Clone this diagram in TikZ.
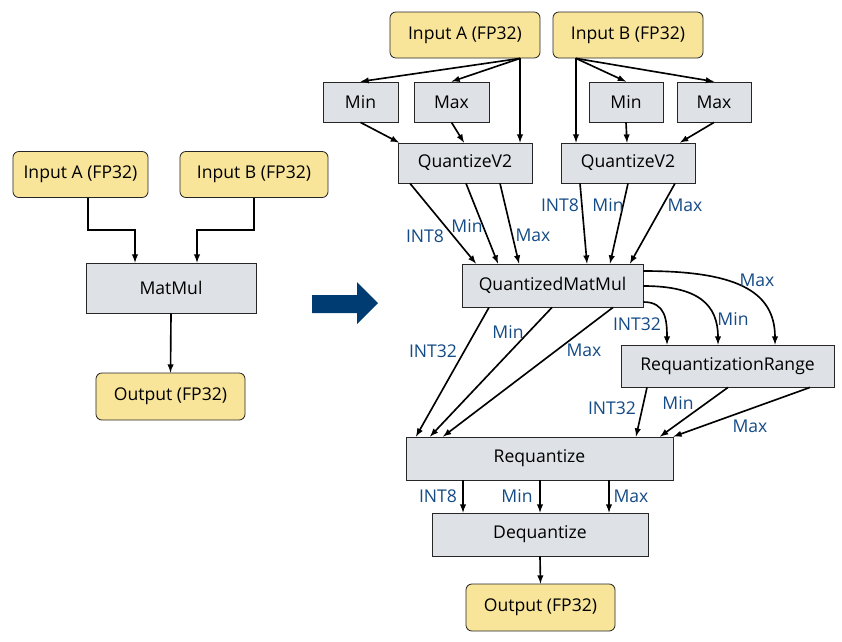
\documentclass[tikz,border=0pt]{standalone}
\usepackage{fontspec}
\setmainfont{Open Sans}
\usetikzlibrary{arrows}

\definecolor{ioyellow}{RGB}{248,229,154}
\definecolor{opgray}{RGB}{222,225,229}
\definecolor{lblblue}{RGB}{20,74,134}
\definecolor{bigblue}{RGB}{0,60,113}

\tikzset{
  box/.style={draw=black!85,line width=0.7pt,fill=opgray,inner sep=0pt,font=\fontsize{15}{17}\selectfont},
  io/.style={box,fill=ioyellow,rounded corners=5pt},
  arr/.style={line width=1.4pt,-latex},
  lbl/.style={text=lblblue,inner sep=0pt,font=\fontsize{15}{17}\selectfont}
}

\begin{document}
\begin{tikzpicture}[x=0.03cm,y=-0.03cm]
\useasboundingbox (0,0) rectangle (842,641);
% before
\node[io,minimum width=4.05cm,minimum height=1.38cm] (inA) at (80.5,174.5) {Input A (FP32)};
\node[io,minimum width=4.44cm,minimum height=1.38cm] (inB) at (254,174.5) {Input B (FP32)};
\node[box,minimum width=5.1cm,minimum height=1.5cm] (mm) at (171,288) {MatMul};
\node[io,minimum width=4.47cm,minimum height=1.41cm] (out) at (170.5,396.5) {Output (FP32)};
\draw[arr] (88,0 |- inA.south) -- (88,230) -| (135,0 |- mm.north);
\draw[arr] (254,0 |- inB.south) -- (254,230) -| (197,0 |- mm.north);
\draw[arr] (mm.south) -- (out.north);
% big arrow
\fill[bigblue] (312,295) -- (357,295) -- (357,282) -- (378,303) -- (357,324) -- (357,313) -- (312,313) -- cycle;
% after
\node[io,minimum width=4.5cm,minimum height=1.38cm] (inAr) at (465,35) {Input A (FP32)};
\node[io,minimum width=4.5cm,minimum height=1.38cm] (inBr) at (628,35) {Input B (FP32)};
\node[box,minimum width=2.25cm,minimum height=1.2cm] (minL) at (360.5,102) {Min};
\node[box,minimum width=2.25cm,minimum height=1.2cm] (maxL) at (451.5,102) {Max};
\node[box,minimum width=2.22cm,minimum height=1.2cm] (minR) at (626,102) {Min};
\node[box,minimum width=2.22cm,minimum height=1.2cm] (maxR) at (714,102) {Max};
\node[box,minimum width=4.02cm,minimum height=1.2cm] (qL) at (465,163) {QuantizeV2};
\node[box,minimum width=4.02cm,minimum height=1.2cm] (qR) at (628,163) {QuantizeV2};
\node[box,minimum width=5.43cm,minimum height=1.29cm] (qmm) at (552.5,285.5) {QuantizedMatMul};
\node[box,minimum width=6.39cm,minimum height=1.26cm] (rr) at (727.5,366) {RequantizationRange};
\node[box,minimum width=8.01cm,minimum height=1.29cm] (rq) at (539.5,458.5) {Requantize};
\node[box,minimum width=6.48cm,minimum height=1.29cm] (dq) at (540,534.5) {Dequantize};
\node[io,minimum width=4.47cm,minimum height=1.41cm] (outr) at (540.5,607.5) {Output (FP32)};

\draw[arr] (520,0 |- inAr.south) -- (minL.north);
\draw[arr] (520,0 |- inAr.south) -- (maxL.north);
\draw[arr] (520,0 |- inAr.south) -- (520,0 |- qL.north);
\draw[arr] (576,0 |- inBr.south) -- (576,0 |- qR.north);
\draw[arr] (576,0 |- inBr.south) -- (minR.north);
\draw[arr] (576,0 |- inBr.south) -- (maxR.north);
\draw[arr] (minL.south) -- (399,0 |- qL.north);
\draw[arr] (maxL.south) -- (464,0 |- qL.north);
\draw[arr] (minR.south) -- (627,0 |- qR.north);
\draw[arr] (maxR.south) -- (680,0 |- qR.north);

\draw[arr] (410,0 |- qL.south) -- (476,0 |- qmm.north);
\draw[arr] (466,0 |- qL.south) -- (498,0 |- qmm.north);
\draw[arr] (500,0 |- qL.south) -- (519,0 |- qmm.north);
\draw[arr] (580,0 |- qR.south) -- (587,0 |- qmm.north);
\draw[arr] (628,0 |- qR.south) -- (610,0 |- qmm.north);
\draw[arr] (675,0 |- qR.south) -- (630,0 |- qmm.north);
\node[lbl] (l1) at (425,236) {INT8};
\node[lbl] (l2) at (467,226) {Min};
\node[lbl] (l3) at (533,235) {Max};
\node[lbl] (l4) at (560,205) {INT8};
\node[lbl] (l5) at (608,205) {Min};
\node[lbl] (l6) at (685,205) {Max};

\draw[arr] (489,0 |- qmm.south) -- (416,0 |- rq.north);
\draw[arr] (552,0 |- qmm.south) -- (430,0 |- rq.north);
\draw[arr] (613,0 |- qmm.south) -- (443,0 |- rq.north);
\node[lbl] (l7) at (433,351) {INT32};
\node[lbl] (l8) at (508,332) {Min};
\node[lbl] (l9) at (584,350) {Max};

\draw[arr] (qmm.east |- 0,271) .. controls +(90,0) and +(0,-55) .. (775,0 |- rr.north);
\draw[arr] (qmm.east |- 0,286) .. controls +(55,0) and +(0,-40) .. (718,0 |- rr.north);
\draw[arr] (qmm.east |- 0,302) .. controls +(22,0) and +(0,-25) .. (667,0 |- rr.north);
\node[lbl] (l10) at (757,280) {Max};
\node[lbl] (l11) at (733,319) {Min};
\node[lbl] (l12) at (637,324) {INT32};

\draw[arr] (647,0 |- rr.south) -- (636,0 |- rq.north);
\draw[arr] (728,0 |- rr.south) -- (660,0 |- rq.north);
\draw[arr] (810,0 |- rr.south) -- (rq.north east);
\node[lbl] (l13) at (612,408) {INT32};
\node[lbl] (l14) at (678,403) {Min};
\node[lbl] (l15) at (750,426) {Max};

\draw[arr] (463,0 |- rq.south) -- (463,0 |- dq.north);
\draw[arr] (540,0 |- rq.south) -- (540,0 |- dq.north);
\draw[arr] (609,0 |- rq.south) -- (609,0 |- dq.north);
\node[lbl] (l16) at (438,496) {INT8};
\node[lbl] (l17) at (517,496) {Min};
\node[lbl] (l18) at (631,496) {Max};
\draw[arr] (dq.south) -- (outr.north);
\end{tikzpicture}
\end{document}
